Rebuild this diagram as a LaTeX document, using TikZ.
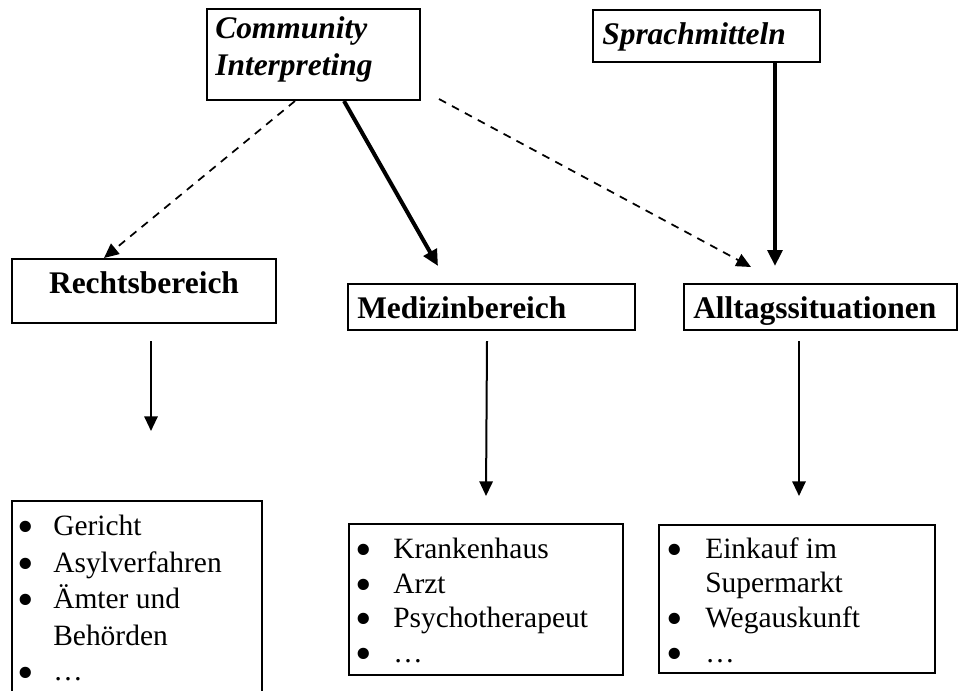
\documentclass[tikz,border=0pt]{standalone}
\usepackage{fontspec}
\usepackage{graphicx}
\setmainfont{Liberation Serif}
\usetikzlibrary{arrows.meta,calc}
\begin{document}
\begin{tikzpicture}[x=0.75pt,y=-0.75pt,
  box/.style={draw,line width=1.5pt,inner sep=0pt},
  head/.style={font=\fontsize{23.6pt}{27.7pt}\selectfont\bfseries, inner sep=0pt},
  headit/.style={font=\fontsize{23.6pt}{27.7pt}\selectfont\bfseries\itshape, inner sep=0pt, anchor=base west},
  item/.style={font=\fontsize{22.1pt}{27.5pt}\selectfont, inner sep=0pt, anchor=base west},
  bul/.style={font=\fontsize{22.1pt}{22.1pt}\selectfont, inner sep=0pt, anchor=center},
  thinarr/.style={line width=1.5pt,-{Triangle[length=11pt,width=10pt]}},
  thickarr/.style={line width=3pt,-{Triangle[length=12pt,width=11pt]}},
  dsharr/.style={line width=1.3pt,dash pattern=on 6pt off 5pt,-{Triangle[length=11pt,width=10pt]}}]
\useasboundingbox (0,0) rectangle (960,690);
\newcommand{\bulglyph}{\scalebox{1.6}{•}}
% boxes
\node[box,minimum width=159.75pt,minimum height=68.25pt] (ci) at (313.5,54.5) {};
\node[box,minimum width=170.25pt,minimum height=39pt] (sm) at (706.5,36) {};
\node[box,minimum width=198pt,minimum height=48pt] (rb) at (144,291) {};
\node[box,minimum width=215.25pt,minimum height=34.5pt] (mb) at (491.5,307) {};
\node[box,minimum width=204.75pt,minimum height=34.5pt] (as) at (820.5,307) {};
\node[box,minimum width=187.5pt,minimum height=164.25pt] (ll) at (137,610.5) {};
\node[box,minimum width=205.5pt,minimum height=113.25pt] (ml) at (486,599.5) {};
\node[box,minimum width=207pt,minimum height=111pt] (rl) at (797,599) {};
% headings
\node[headit] (ci1) at (215,38) {Community};
\node[headit] (ci2) at (215,75) {Interpreting};
\node[headit] (smt) at (602,44) {Sprachmitteln};
\node[head,anchor=base] (rbt) at (144,293) {Rechtsbereich};
\node[head,anchor=base west] (mbt) at (357,318) {Medizinbereich};
\node[head,anchor=base west] (ast) at (693,318) {Alltagssituationen};
% left list
\node[bul] (lb1) at (26,532) {\bulglyph};
\node[item] (lt1) at (53,535) {Gericht};
\node[bul] (lb2) at (26,569) {\bulglyph};
\node[item] (lt2) at (53,572) {Asylverfahren};
\node[bul] (lb3) at (26,605) {\bulglyph};
\node[item] (lt3) at (53,608) {Ämter und};
\node[item] (lt4) at (53,645) {Behörden};
\node[bul] (lb5) at (26,678) {\bulglyph};
\node[item] (lt5) at (53,680) {…};
% middle list
\node[bul] (mb1) at (364,555) {\bulglyph};
\node[item] (mt1) at (393,558) {Krankenhaus};
\node[bul] (mb2) at (364,590) {\bulglyph};
\node[item] (mt2) at (393,593) {Arzt};
\node[bul] (mb3) at (364,624) {\bulglyph};
\node[item] (mt3) at (393,627) {Psychotherapeut};
\node[bul] (mb4) at (364,659) {\bulglyph};
\node[item] (mt4) at (393,662) {…};
% right list
\node[bul] (rb1) at (675,555) {\bulglyph};
\node[item] (rt1) at (705,558) {Einkauf im};
\node[item] (rt2) at (705,592) {Supermarkt};
\node[bul] (rb3) at (675,624) {\bulglyph};
\node[item] (rt3) at (705,627) {Wegauskunft};
\node[bul] (rb4) at (675,659) {\bulglyph};
\node[item] (rt4) at (705,662) {…};
% connector end points
\coordinate (c1s) at ($(ci.south west)+(89,0)$);
\coordinate (c1e) at ($(rb.north west)+(93,0)$);
\coordinate (c2s) at ($(ci.south west)+(138,0)$);
\coordinate (c2e) at ($(mb.north west)+(91,-17)$);
\coordinate (c3s) at ($(ci.south east)+(18,-2)$);
\coordinate (c3e) at ($(as.north west)+(68,-16)$);
\coordinate (c4s) at ($(sm.south west)+(183,0)$);
\coordinate (c4e) at ($(as.north west)+(92,-17)$);
\coordinate (v1s) at ($(rb.south west)+(140,17)$);
\coordinate (v1e) at ($(ll.north west)+(140,-69)$);
\coordinate (v2s) at ($(mb.south west)+(140,10)$);
\coordinate (v2e) at ($(ml.north west)+(138,-27)$);
\coordinate (v3s) at ($(as.south west)+(116,10)$);
\coordinate (v3e) at ($(rl.north west)+(141,-28)$);
% connectors
\draw[dsharr] (c1s) -- (c1e);
\draw[thickarr] (c2s) -- (c2e);
\draw[dsharr] (c3s) -- (c3e);
\draw[thickarr] (c4s) -- (c4e);
\draw[thinarr] (v1s) -- (v1e);
\draw[thinarr] (v2s) -- (v2e);
\draw[thinarr] (v3s) -- (v3e);
\end{tikzpicture}
\end{document}
